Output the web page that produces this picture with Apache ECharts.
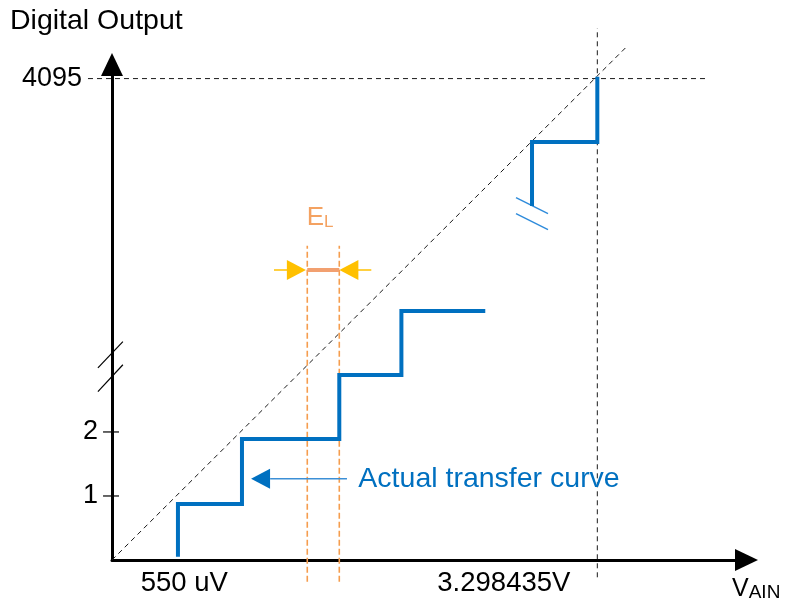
<!DOCTYPE html>
<html>
<head>
<meta charset="utf-8">
<script src="https://cdn.jsdelivr.net/npm/echarts@6/dist/echarts.min.js"></script>
<style>html,body{margin:0;padding:0;background:#fff}#c{width:785px;height:601px}</style>
</head>
<body>
<div id="c"></div>
<script>
// ---- values (units: LSB-like schematic units) ----
const yTickValues = [1, 2, 7.52];
const yTickLabels = ['1', '2', '4095'];
const xLabelValues = [1.13, 6.12];
const xLabelTexts = ['550 uV', '3.298435V'];
const lowerStairs = [[1.03, 0.05], [1.03, 0.875], [2.03, 0.875], [2.03, 1.89], [3.55, 1.89], [3.55, 2.89], [4.52, 2.89], [4.52, 3.89], [5.83, 3.89]];
const upperStairs = [[6.56, 5.53], [6.56, 6.53], [7.58, 6.53], [7.58, 7.55]];
const idealLine = [[0, 0], [8.05, 8.03]];
const fullScaleCodeLine = [[-0.375, 7.52], [9.30, 7.52]];
const fullScaleVoltLine = [[7.58, -0.27], [7.58, 8.31]];
const elLeftLine = [[3.05, -0.34], [3.05, 4.91]];
const elRightLine = [[3.55, -0.34], [3.55, 4.91]];
const elBar = [[3.05, 4.53], [3.55, 4.53]];
const elArrowLeftLine = [[2.53, 4.53], [2.75, 4.53]];
const elArrowRightLine = [[3.84, 4.53], [4.05, 4.53]];
const elArrowHeads = [[2.88, 4.53, -90], [3.70, 4.53, 90]];
const elLabelPos = [3.25, 5.36];
const yBreak1 = [[-0.22, 3.0], [0.17, 3.41]];
const yBreak2 = [[-0.22, 2.63], [0.17, 3.05]];
const curveBreak1 = [[6.31, 5.66], [6.81, 5.41]];
const curveBreak2 = [[6.31, 5.41], [6.81, 5.16]];
const tick1 = [[-0.14, 1], [0.11, 1]];
const tick2 = [[-0.14, 2], [0.11, 2]];
const noteLine = [[2.47, 1.27], [3.67, 1.27]];
const noteHead = [2.32, 1.27];
const noteTextPos = [3.84, 1.27];
const noteText = 'Actual transfer curve';

const FONT = 'Liberation Sans, Arial, sans-serif';
const BLUE = '#0070C0';
const ORANGE = '#F59D4E';
const ORANGE_TEXT = '#F4A261';
const YELLOW = '#FFC000';
const CLEAR = 'rgba(0,0,0,0)';

// straight segment / polyline drawn through the cartesian scales (no clamping)
function seg(data, color, width, type, z) {
  return {
    type: 'lines', coordinateSystem: 'cartesian2d', polyline: true, clip: false,
    silent: true, animation: false, z: z || 2,
    data: [{ coords: data }],
    lineStyle: { color: color, width: width, type: type || 'solid', opacity: 1, curveness: 0, join: 'miter', cap: 'butt' }
  };
}

const chart = echarts.init(document.getElementById('c'), null, { renderer: 'canvas' });
const option = {
  animation: false,
  backgroundColor: '#fff',
  title: {
    text: 'Digital Output', left: 10, top: 7, padding: 0,
    textStyle: { fontSize: 28.5, fontWeight: 'normal', color: '#000', fontFamily: FONT }
  },
  grid: { left: 112, right: 38.5, top: 64.5, bottom: 41, containLabel: false, outerBoundsMode: 'none' },
  xAxis: {
    type: 'value', min: 0, max: 9.91,
    axisLine: { show: true, onZero: false, lineStyle: { color: '#000', width: 3 }, symbol: ['none', 'triangle'], symbolSize: [22, 23] },
    axisTick: { show: false },
    splitLine: { show: false },
    axisLabel: {
      customValues: xLabelValues, margin: 9, fontSize: 27.5, color: '#000', fontFamily: FONT,
      formatter: function (v) { const i = xLabelValues.indexOf(v); return i >= 0 ? xLabelTexts[i] : ''; }
    },
    name: '{v|V}{s|AIN}', nameLocation: 'end', nameGap: -14.5,
    nameTextStyle: {
      align: 'left', verticalAlign: 'top', padding: [16, 0, 0, 0],
      rich: {
        v: { fontSize: 25, color: '#000', fontFamily: FONT, verticalAlign: 'bottom', lineHeight: 26 },
        s: { fontSize: 19, color: '#000', fontFamily: FONT, verticalAlign: 'bottom', lineHeight: 21 }
      }
    }
  },
  yAxis: {
    type: 'value', min: 0, max: 7.74,
    axisLine: { show: true, onZero: false, lineStyle: { color: '#000', width: 3 }, symbol: ['none', 'triangle'], symbolSize: [22, 23] },
    axisTick: { show: false },
    splitLine: { show: false },
    axisLabel: {
      customValues: yTickValues, margin: 14, fontSize: 27, color: '#000', fontFamily: FONT,
      formatter: function (v) {
        const i = yTickValues.indexOf(v);
        if (i < 0) return '';
        return i === 2 ? '{far|' + yTickLabels[i] + '}' : yTickLabels[i];
      },
      rich: { far: { fontSize: 27, color: '#000', fontFamily: FONT, padding: [0, 16, 0, 0] } }
    }
  },
  series: [
    seg(idealLine, '#1a1a1a', 1, [5, 4]),
    seg(fullScaleCodeLine, '#1a1a1a', 1, [5, 4]),
    seg(fullScaleVoltLine, '#1a1a1a', 1, [5, 4]),
    seg(elLeftLine, ORANGE, 1.6, [6, 3]),
    seg(elRightLine, ORANGE, 1.6, [6, 3]),
    seg(elBar, '#F2A070', 4, 'solid', 4),
    seg(elArrowLeftLine, YELLOW, 1.5),
    seg(elArrowRightLine, YELLOW, 1.5),
    {
      type: 'scatter', silent: true, clip: false, animation: false, z: 5,
      data: elArrowHeads.map(function (d) { return { value: [d[0], d[1]], symbolRotate: d[2] }; }),
      symbol: 'triangle', symbolSize: [20, 19], itemStyle: { color: YELLOW, opacity: 1 }
    },
    {
      type: 'scatter', silent: true, clip: false, animation: false, z: 6,
      data: [elLabelPos], symbolSize: 1, itemStyle: { color: CLEAR, opacity: 1 },
      label: {
        show: true, position: 'inside', formatter: '{e|E}{l|L}',
        rich: {
          e: { fontSize: 26, color: ORANGE_TEXT, fontFamily: FONT, verticalAlign: 'bottom', lineHeight: 28 },
          l: { fontSize: 17, color: ORANGE_TEXT, fontFamily: FONT, verticalAlign: 'bottom', lineHeight: 19 }
        }
      }
    },
    seg(lowerStairs, BLUE, 4, 'solid', 3),
    seg(upperStairs, BLUE, 4, 'solid', 3),
    seg(yBreak1, '#000', 1.2),
    seg(yBreak2, '#000', 1.2),
    seg(curveBreak1, '#2E8BDB', 1.4),
    seg(curveBreak2, '#2E8BDB', 1.4),
    seg(tick1, '#000', 1.2),
    seg(tick2, '#000', 1.2),
    seg(noteLine, '#3C8FD6', 1.5),
    {
      type: 'scatter', silent: true, clip: false, animation: false, z: 5,
      data: [{ value: noteHead, symbolRotate: 90 }],
      symbol: 'triangle', symbolSize: [20, 19], itemStyle: { color: BLUE, opacity: 1 }
    },
    {
      type: 'scatter', silent: true, clip: false, animation: false, z: 6,
      data: [noteTextPos], symbolSize: 1, itemStyle: { color: CLEAR, opacity: 1 },
      label: { show: true, position: 'right', distance: 0, formatter: noteText, fontSize: 28.5, color: BLUE, fontFamily: FONT }
    }
  ]
};
chart.setOption(option);
</script>
</body>
</html>
